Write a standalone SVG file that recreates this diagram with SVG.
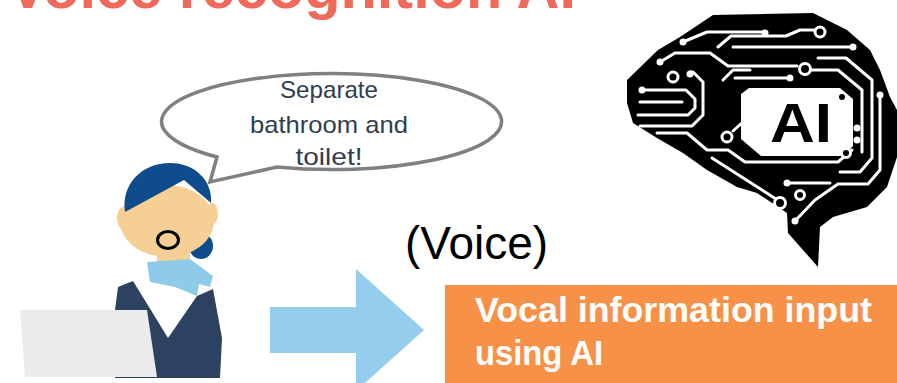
<svg xmlns="http://www.w3.org/2000/svg" width="897" height="383" viewBox="0 0 897 383">
  <style>
    .title { font-family: "Liberation Sans", Arial, sans-serif; font-weight: bold; font-size: 59px; fill: #EF6A5A; }
    .bubble-text { font-family: "Liberation Sans", Arial, sans-serif; font-size: 24px; fill: #2F3E50; text-anchor: middle; }
    .voice { font-family: "Liberation Sans", Arial, sans-serif; font-size: 46px; fill: #000; }
    .box-text { font-family: "Liberation Sans", Arial, sans-serif; font-weight: bold; font-size: 35px; fill: #FFFFFF; }
    .trace { fill: none; stroke: #FFFFFF; stroke-width: 3; stroke-linecap: round; stroke-linejoin: round; }
    .ring { fill: #000; stroke: #FFFFFF; stroke-width: 3; }
    .dot { fill: #FFFFFF; }
  </style>

  <rect width="897" height="383" fill="#FFFFFF"/>

  <!-- heading, cut by the top edge -->
  <g id="title">
    <text class="title" x="8" y="8" textLength="568" lengthAdjust="spacingAndGlyphs">Voice recognition AI</text>
  </g>

  <!-- operator at a laptop -->
  <g id="person">
    <!-- hair bun behind the head -->
    <ellipse cx="201" cy="246" rx="12" ry="13" fill="#0E4C8E"/>
    <!-- neck -->
    <rect x="157" y="238" width="33" height="30" fill="#F5CF93"/>
    <!-- face with ears -->
    <ellipse cx="167" cy="221" rx="47" ry="36" fill="#F5CF93"/>
    <ellipse cx="123" cy="218" rx="6" ry="11" fill="#F5CF93"/>
    <ellipse cx="212" cy="214" rx="6" ry="11" fill="#F5CF93"/>
    <!-- hair -->
    <path d="M125,212 C121,184 142,163 170,163 C196,163 213,182 211,203 L184,180 Z" fill="#0E4C8E"/>
    <!-- open mouth -->
    <ellipse cx="168" cy="240" rx="10.5" ry="8.5" fill="#F5CF93" stroke="#000" stroke-width="3"/>
    <!-- jacket with white shirt showing in the V -->
    <polygon points="118,287 133,281 168,338 197,296 213,289 222,338 220,378 115,378 115,310" fill="#2D4260"/>
    <!-- scarf -->
    <polygon points="147,262 190,259 213,276 210,287 199,284 197,296 175,287 150,282" fill="#8ECBEA"/>
    <!-- laptop lid -->
    <polygon points="20,310 147,310 157,377 25,377" fill="#EBEBEB"/>
  </g>

  <!-- speech balloon -->
  <g id="speech-bubble">
    <path d="M217,157 L210,182 L277,167 A170,48 0 1 0 217,157 Z" fill="#FFFFFF" stroke="#808080" stroke-width="3.5" stroke-linejoin="miter"/>
    <text class="bubble-text" x="329" y="98" textLength="98" lengthAdjust="spacingAndGlyphs">Separate</text>
    <text class="bubble-text" x="329" y="133" textLength="158" lengthAdjust="spacingAndGlyphs">bathroom and</text>
    <text class="bubble-text" x="329" y="165" textLength="67" lengthAdjust="spacingAndGlyphs">toilet!</text>
  </g>

  <!-- circuit brain icon -->
  <g id="ai-brain">
    <polygon fill="#000" points="627,80 658,50 680,37 713,15 813,13 847,30 870,50 880,70 890,97 897,110 897,157 887,187 867,207 833,217 820,227 818,267 788,233 787,213 757,193 737,187 707,170 683,153 657,138 633,123 627,103"/>
    <!-- chip window -->
    <polygon fill="#FFFFFF" points="741,94 749,88 840,88 853,99 853,146 843,156 761,156 741,139"/>
    <text x="801" y="142" text-anchor="middle" font-family="Liberation Sans, Arial, sans-serif" font-weight="bold" font-size="56" fill="#000" textLength="62" lengthAdjust="spacingAndGlyphs">AI</text>
    <circle cx="842" cy="97" r="3" fill="#000"/>
    <!-- traces -->
    <path class="trace" d="M683,42 L707,32 H765"/>
    <path class="trace" d="M718,47 L731,36 H786 L800,30 H815"/>
    <path class="trace" d="M733,47 H853"/>
    <path class="trace" d="M660,62 L675,53 H710 L728,66 H797"/>
    <path class="trace" d="M735,78 H790"/>
    <path class="trace" d="M812,70 H838 L862,90 V152"/>
    <path class="trace" d="M818,58 H846 L872,80 V158 L860,172 H840"/>
    <path class="trace" d="M880,95 V170 L868,184 H838 L815,200 L795,221"/>
    <path class="trace" d="M642,90 H686 L695,99 V108 L688,115 H638"/>
    <path class="trace" d="M640,102 H682"/>
    <path class="trace" d="M640,126 H692 L703,115 V82 L693,72 H690"/>
    <path class="trace" d="M657,133 H687 L707,150 H728 L745,162 H838 L852,150"/>
    <path class="trace" d="M733,131 L744,121 V98"/>
    <path class="trace" d="M712,158 L776,199"/>
    <path class="trace" d="M787,183 H830"/>
    <path class="trace" d="M723,80 L733,70 H750"/>
    <circle class="dot" cx="683" cy="42" r="3.5"/>
    <circle class="dot" cx="765" cy="33" r="3.5"/>
    <circle class="dot" cx="853" cy="47" r="3.5"/>
    <circle class="dot" cx="660" cy="62" r="3.5"/>
    <circle class="dot" cx="642" cy="90" r="3.5"/>
    <circle class="dot" cx="690" cy="74" r="3.5"/>
    <circle class="dot" cx="790" cy="78" r="3.5"/>
    <circle class="dot" cx="787" cy="183" r="3.5"/>
    <circle class="dot" cx="857" cy="128" r="3.5"/>
    <circle class="dot" cx="857" cy="140" r="3.5"/>
    <circle class="dot" cx="880" cy="95" r="3.5"/>
    <circle class="dot" cx="795" cy="221" r="3.5"/>
    <circle class="ring" cx="820" cy="32" r="5"/>
    <circle class="ring" cx="805" cy="69" r="5.5"/>
    <circle class="ring" cx="673" cy="77" r="5"/>
    <circle class="ring" cx="727" cy="137" r="5"/>
    <circle class="ring" cx="780" cy="203" r="5.5"/>
    <circle class="ring" cx="800" cy="195" r="4.5"/>
    <circle class="ring" cx="846" cy="153" r="4.5"/>
  </g>

  <g id="voice-label">
    <text class="voice" x="405" y="259" textLength="143" lengthAdjust="spacingAndGlyphs">(Voice)</text>
  </g>

  <!-- flow arrow -->
  <g id="connectors">
    <polygon points="270,307 356,307 356,269 424,330 356,391 356,353 270,353" fill="#95CEEC"/>
  </g>

  <g id="vocal-input">
    <rect x="445" y="285" width="452" height="98" fill="#F79148"/>
    <text class="box-text" x="475" y="322" textLength="397" lengthAdjust="spacingAndGlyphs">Vocal information input</text>
    <text class="box-text" x="475" y="365" textLength="128" lengthAdjust="spacingAndGlyphs">using AI</text>
  </g>
</svg>
